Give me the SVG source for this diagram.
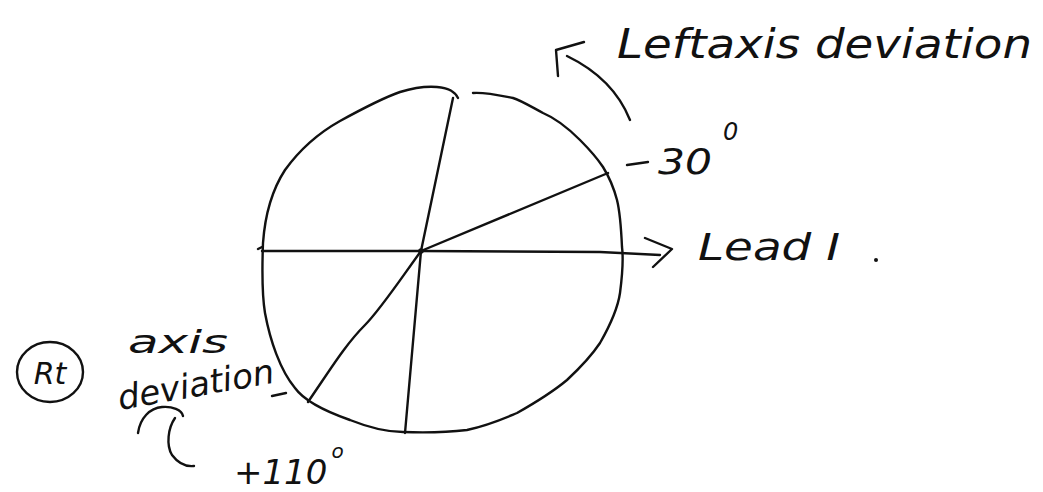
<svg xmlns="http://www.w3.org/2000/svg" width="1043" height="492" viewBox="0 0 1043 492">
<style>
.s{fill:none;stroke:#111;stroke-width:2.4;stroke-linecap:round;stroke-linejoin:round}
.t{font-family:"DejaVu Sans","Liberation Sans",sans-serif;font-style:italic;fill:#111}
</style>
<rect width="1043" height="492" fill="#fff"/>
<g id="circle">
<path class="s" d="M458,98 C455,92 450,88 437,87 C425,86 413,88 400,92 C380,99 360,110 340,121 C315,135 298,152 285,170 C272,190 265,215 263,243 C262,270 262,295 265,313 C270,340 280,370 295,388 C305,402 330,413 350,420 C370,428 390,432 403,432 C430,433 450,432 467,430 C490,425 505,418 517,413 C540,400 555,390 567,380 C582,366 592,355 600,343 C612,322 618,307 620,293 C623,270 623,255 622,247 C621,225 620,212 617,200 C613,185 608,175 603,167 C595,155 588,148 580,140 C568,128 555,118 543,113 C530,106 520,100 513,98 C498,95 485,92 473,93"/>
</g>
<g id="connectors">
<path class="s" d="M258,249 L262,247 M262,251 L421,251 L600,252 L660,255"/>
<path class="s" d="M645,238 L672,249 L653,267"/>
<path class="s" d="M453,98 L421,251 L405,433"/>
<path class="s" d="M421,251 L608,173"/>
<path class="s" d="M421,251 C400,280 380,310 365,325 C345,345 330,370 308,402"/>
<circle cx="421" cy="251" r="2.8" fill="#111"/>
<path class="s" d="M567,56 C600,72 620,95 630,120"/>
<path class="s" d="M558,76 L556,50 L584,42"/>
<path class="s" d="M627,165 L648,162"/>
<path class="s" d="M272,396 L286,393"/>
<path class="s" d="M138,433 C140,418 150,408 162,407 C172,406 182,410 183,416"/>
<path class="s" d="M175,418 C168,428 166,445 172,455 C178,463 185,467 194,466"/>
</g>
<g id="label-left-axis">
<text class="t" x="617" y="58" font-size="40" textLength="415" lengthAdjust="spacingAndGlyphs">Leftaxis deviation</text>
</g>
<g id="label-minus30">
<text class="t" x="658" y="174" font-size="36" textLength="54" lengthAdjust="spacingAndGlyphs">30</text>
<text class="t" x="723" y="140" font-size="24">0</text>
</g>
<g id="label-lead">
<text class="t" x="698" y="260" font-size="38" textLength="142" lengthAdjust="spacingAndGlyphs">Lead I</text>
<circle cx="876" cy="260" r="2" fill="#111"/>
</g>
<g id="label-rt">
<ellipse class="s" cx="50" cy="372" rx="33" ry="30"/>
<text class="t" x="50" y="384" font-size="30" text-anchor="middle">Rt</text>
<text class="t" x="128" y="353" font-size="32" textLength="100" lengthAdjust="spacingAndGlyphs">axis</text>
<text class="t" x="120" y="410" font-size="34" transform="rotate(-10 120 410)">deviation</text>
<text class="t" x="234" y="484" font-size="34">+110<tspan font-size="20" dx="4" dy="-26">o</tspan></text>
</g>
</svg>
